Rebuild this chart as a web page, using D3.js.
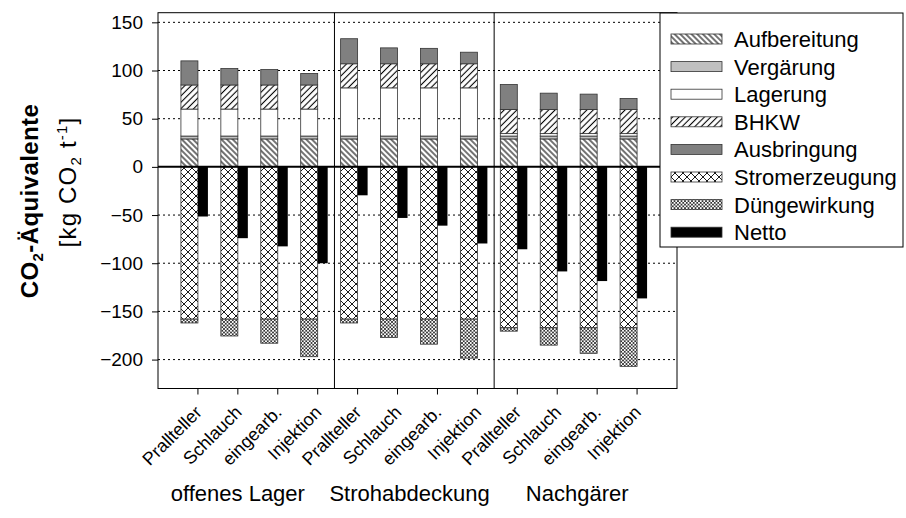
<!DOCTYPE html>
<html lang="de">
<meta charset="utf-8">
<head>
<script src="https://d3js.org/d3.v7.min.js"></script>
<style>
  body { margin: 0; background: #fff; }
  svg { font-family: "Liberation Sans", Arial, sans-serif; }
</style>
</head>
<body>
<svg id="chart" width="906" height="518"></svg>
<script>
// data
var categories = ["Prallteller", "Schlauch", "eingearb.", "Injektion",
                  "Prallteller", "Schlauch", "eingearb.", "Injektion",
                  "Prallteller", "Schlauch", "eingearb.", "Injektion"];
var groups = ["offenes Lager", "Strohabdeckung", "Nachgärer"];

var aufbereitung   = [29, 29, 29, 29, 29, 29, 29, 29, 29, 29, 29, 29];
var vergaerung     = [3, 3, 3, 3, 3, 3, 3, 3, 3, 3, 3, 3];
var lagerung       = [28, 28, 28, 28, 50, 50, 50, 50, 2.5, 2.5, 2.5, 2.5];
var bhkw           = [25, 25, 25, 25, 25, 25, 25, 25, 25, 25, 25, 25];
var ausbringung    = [25, 17, 16, 12, 26, 16.5, 16, 12, 26, 17, 16, 11.5];
var stromerzeugung = [-158, -158, -158, -158, -158, -158, -158, -158, -167, -167, -167, -167];
var duengewirkung  = [-4, -17.5, -25, -39, -4, -19, -26, -40.5, -3.5, -18, -26.5, -40];
var netto          = [-51.5, -74, -82.5, -100, -29.5, -53, -61, -79.5, -85.5, -108.5, -118.5, -136.5];

var yTicks = [-200, -150, -100, -50, 0, 50, 100, 150];
var legendNames = ["Aufbereitung", "Vergärung", "Lagerung", "BHKW", "Ausbringung",
                   "Stromerzeugung", "Düngewirkung", "Netto"];

var svg = d3.select("#chart");

// scales
var x = d3.scaleLinear().domain([0, 13]).range([158, 677]);
var y = d3.scaleLinear().domain([-230, 160]).range([388.5, 12.7]);
var barW = 17, netW = 10;
var groupLabelAt = [2.0, 6.3, 10.5];   // label centres in x-scale units

// hatch patterns
var defs = svg.append("defs");
function hatch(id, size, angle) {
  var p = defs.append("pattern")
    .attr("id", id)
    .attr("patternUnits", "userSpaceOnUse")
    .attr("width", size).attr("height", size)
    .attr("patternTransform", "rotate(" + angle + ")");
  p.append("rect").attr("width", size).attr("height", size).attr("fill", "#fff");
  p.append("line").attr("x1", size / 2).attr("x2", size / 2)
    .attr("y1", 0).attr("y2", size)
    .attr("stroke", "#000").attr("stroke-width", 1.1);
}
function cross(id, size, sw) {
  var p = defs.append("pattern")
    .attr("id", id)
    .attr("patternUnits", "userSpaceOnUse")
    .attr("width", size).attr("height", size);
  p.append("rect").attr("width", size).attr("height", size).attr("fill", "#fff");
  p.append("path")
    .attr("d", "M0,0L" + size + "," + size + "M" + size + ",0L0," + size)
    .attr("stroke", "#000").attr("stroke-width", sw);
}
hatch("p-aufb", 4, -45);
hatch("p-bhkw", 4.5, 45);
cross("p-strom", 8, 0.9);
cross("p-duenge", 3.5, 0.7);

var fills = ["url(#p-aufb)", "#c0c0c0", "#ffffff", "url(#p-bhkw)", "#808080",
             "url(#p-strom)", "url(#p-duenge)", "#000000"];

// grid lines
svg.append("g")
  .selectAll("line")
  .data(yTicks.filter(function(d) { return d !== 0; }))
  .enter().append("line")
    .attr("x1", x(0)).attr("x2", x(13))
    .attr("y1", function(d) { return y(d); })
    .attr("y2", function(d) { return y(d); })
    .attr("stroke", "#000")
    .attr("stroke-width", 1)
    .attr("stroke-dasharray", "2,3");

// stacked bars
var rows = categories.map(function(c, i) {
  return {
    i: i,
    "Aufbereitung": aufbereitung[i],
    "Vergärung": vergaerung[i],
    "Lagerung": lagerung[i],
    "BHKW": bhkw[i],
    "Ausbringung": ausbringung[i],
    "Stromerzeugung": stromerzeugung[i],
    "Düngewirkung": duengewirkung[i]
  };
});
var keys = legendNames.slice(0, 7);
var series = d3.stack().keys(keys).offset(d3.stackOffsetDiverging)(rows);

svg.append("g")
  .selectAll("g")
  .data(series)
  .enter().append("g")
    .attr("fill", function(d, k) { return fills[k]; })
  .selectAll("rect")
  .data(function(d) { return d; })
  .enter().append("rect")
    .attr("x", function(d) { return x(d.data.i + 1) - barW; })
    .attr("width", barW)
    .attr("y", function(d) { return y(Math.max(d[0], d[1])); })
    .attr("height", function(d) { return Math.abs(y(d[0]) - y(d[1])); })
    .attr("stroke", "#333")
    .attr("stroke-width", 0.8);

// netto bars
svg.append("g")
  .selectAll("rect")
  .data(netto)
  .enter().append("rect")
    .attr("x", function(d, i) { return x(i + 1); })
    .attr("width", netW)
    .attr("y", function(d) { return y(Math.max(0, d)); })
    .attr("height", function(d) { return Math.abs(y(d) - y(0)); })
    .attr("fill", "#000");

// zero line
svg.append("line")
  .attr("x1", x(0)).attr("x2", x(13))
  .attr("y1", y(0)).attr("y2", y(0))
  .attr("stroke", "#000").attr("stroke-width", 2);

// group separators (in the gap after each 4th category)
svg.append("g")
  .selectAll("line")
  .data([4, 8])
  .enter().append("line")
    .attr("x1", function(d) { return x(d + 0.42); })
    .attr("x2", function(d) { return x(d + 0.42); })
    .attr("y1", y(160)).attr("y2", y(-230))
    .attr("stroke", "#000").attr("stroke-width", 1);

// frame
svg.append("rect")
  .attr("x", x(0)).attr("y", y(160))
  .attr("width", x(13) - x(0)).attr("height", y(-230) - y(160))
  .attr("fill", "none").attr("stroke", "#000").attr("stroke-width", 1);

// y axis
var yAxis = svg.append("g")
  .attr("transform", "translate(" + x(0) + ",0)")
  .call(d3.axisLeft(y).tickValues(yTicks).tickSize(6).tickPadding(9));
yAxis.select(".domain").remove();
yAxis.selectAll("text")
  .attr("font-size", 19)
  .attr("font-family", "Liberation Sans, Arial, sans-serif")
  .attr("fill", "#000");

// x ticks + rotated category labels
var xAxis = svg.append("g")
  .attr("transform", "translate(0," + y(-230) + ")");
xAxis.selectAll("line")
  .data(categories)
  .enter().append("line")
    .attr("x1", function(d, i) { return x(i + 1); })
    .attr("x2", function(d, i) { return x(i + 1); })
    .attr("y1", 0).attr("y2", 6)
    .attr("stroke", "#000");
xAxis.selectAll("text")
  .data(categories)
  .enter().append("text")
    .attr("transform", function(d, i) {
      return "translate(" + (x(i + 1) + 5) + ",25) rotate(-45)";
    })
    .attr("text-anchor", "end")
    .attr("font-size", 18)
    .text(function(d) { return d; });

// group labels
svg.append("g")
  .selectAll("text")
  .data(groups)
  .enter().append("text")
    .attr("x", function(d, g) { return x(groupLabelAt[g]); })
    .attr("y", 501)
    .attr("text-anchor", "middle")
    .attr("font-size", 22)
    .text(function(d) { return d; });

// y axis title
var t1 = svg.append("text")
  .attr("transform", "translate(38,201) rotate(-90)")
  .attr("text-anchor", "middle")
  .attr("font-size", 24)
  .attr("letter-spacing", 0.4)
  .attr("font-weight", "bold");
t1.append("tspan").text("CO");
t1.append("tspan").attr("font-size", 15).attr("dy", 5).text("2");
t1.append("tspan").attr("dy", -5).text("-Äquivalente");

var t2 = svg.append("text")
  .attr("transform", "translate(76,182) rotate(-90)")
  .attr("text-anchor", "middle")
  .attr("font-size", 24)
  .attr("letter-spacing", 1.2);
t2.append("tspan").text("[kg CO");
t2.append("tspan").attr("font-size", 15).attr("dy", 5).text("2");
t2.append("tspan").attr("dy", -5).text(" t");
t2.append("tspan").attr("font-size", 15).attr("dy", -9).text("-1");
t2.append("tspan").attr("dy", 9).text("]");

// legend
var legend = svg.append("g");
legend.append("rect")
  .attr("x", 660).attr("y", 13)
  .attr("width", 243).attr("height", 234)
  .attr("fill", "#fff").attr("stroke", "#000").attr("stroke-width", 1);
var item = legend.selectAll("g.item")
  .data(legendNames)
  .enter().append("g")
    .attr("class", "item")
    .attr("transform", function(d, i) { return "translate(671," + (39 + i * 27.6) + ")"; });
item.append("rect")
  .attr("x", 0).attr("y", -5)
  .attr("width", 51).attr("height", 10)
  .attr("fill", function(d, i) { return fills[i]; })
  .attr("stroke", "#333").attr("stroke-width", 0.8);
item.append("text")
  .attr("x", 63).attr("y", 8)
  .attr("font-size", 22)
  .text(function(d) { return d; });
</script>
</body>
</html>
